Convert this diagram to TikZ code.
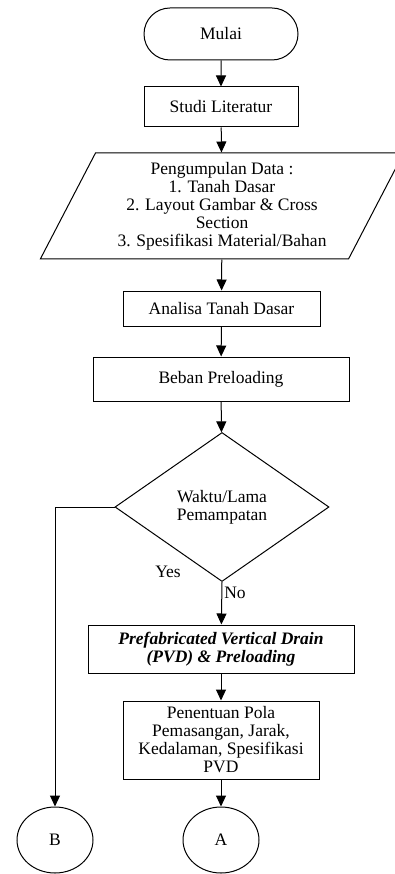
\documentclass[tikz,border=0pt]{standalone}
\usepackage{fontspec}
\setmainfont{Liberation Serif}
\usetikzlibrary{arrows.meta}
\usetikzlibrary{shapes.geometric}
\usetikzlibrary{shapes.misc}

\begin{document}
\begin{tikzpicture}[x=1pt,y=-1pt,line width=1pt,
  >={Triangle[length=11pt,width=10pt]},
  every node/.style={font=\fontsize{17.5}{18}\selectfont},
  proses/.style={draw,rectangle,inner sep=0pt,align=center}]
\useasboundingbox (0,0) rectangle (394,874);
\node[draw,rounded rectangle,minimum width=154pt,minimum height=52pt,inner sep=0pt] (mulai) at (221,34) {Mulai};
\node[proses,minimum width=154pt,minimum height=40pt] (studi) at (221,107) {Studi Literatur};
\node[draw,trapezium,trapezium left angle=62.6,trapezium right angle=117.4,trapezium stretches=true,
  minimum width=364pt,minimum height=106pt,inner sep=0pt,align=center] (data) at (222,206) {
Pengumpulan Data :\\
1. Tanah Dasar\\
2. Layout Gambar \& Cross\\
Section\\
3. Spesifikasi Material/Bahan
};
\node[proses,minimum width=197pt,minimum height=35pt] (analisa) at (221.5,308.5) {Analisa Tanah Dasar};
\node[proses,minimum width=256pt,minimum height=44pt] (beban) at (221,379) {Beban Preloading};
\node[draw,diamond,aspect=1.436,minimum width=214pt,minimum height=149pt,inner sep=0pt,align=center] (waktu) at (222,507) {Waktu/Lama\\Pemampatan};
\node (yes) at (168,572) {Yes};
\node[proses,minimum width=266pt,minimum height=48pt] (pvd) at (221,649) {\textbf{\textit{Prefabricated Vertical Drain}}\\\textbf{\textit{(PVD) \& Preloading}}};
\node[proses,minimum width=196pt,minimum height=78pt] (penentuan) at (221,740) {Penentuan Pola\\Pemasangan, Jarak,\\Kedalaman, Spesifikasi\\PVD};
\node[draw,ellipse,minimum width=76pt,minimum height=66pt,inner sep=0pt] (B) at (55,840) {B};
\node[draw,ellipse,minimum width=76pt,minimum height=66pt,inner sep=0pt] (A) at (221,840) {A};

\draw[->] (mulai) -- (studi);
\draw[->] (studi) -- (data);
\draw[->] (data) -- (analisa);
\draw[->] (analisa) -- (beban);
\draw[->] (beban) -- (waktu);
\draw[->] (waktu.south) -- node[pos=0.25,right,inner sep=2pt] {No} (pvd);
\draw[->] (waktu.west) -| (B);
\draw[->] (pvd) -- (penentuan);
\draw[->] (penentuan) -- (A);
\end{tikzpicture}
\end{document}
